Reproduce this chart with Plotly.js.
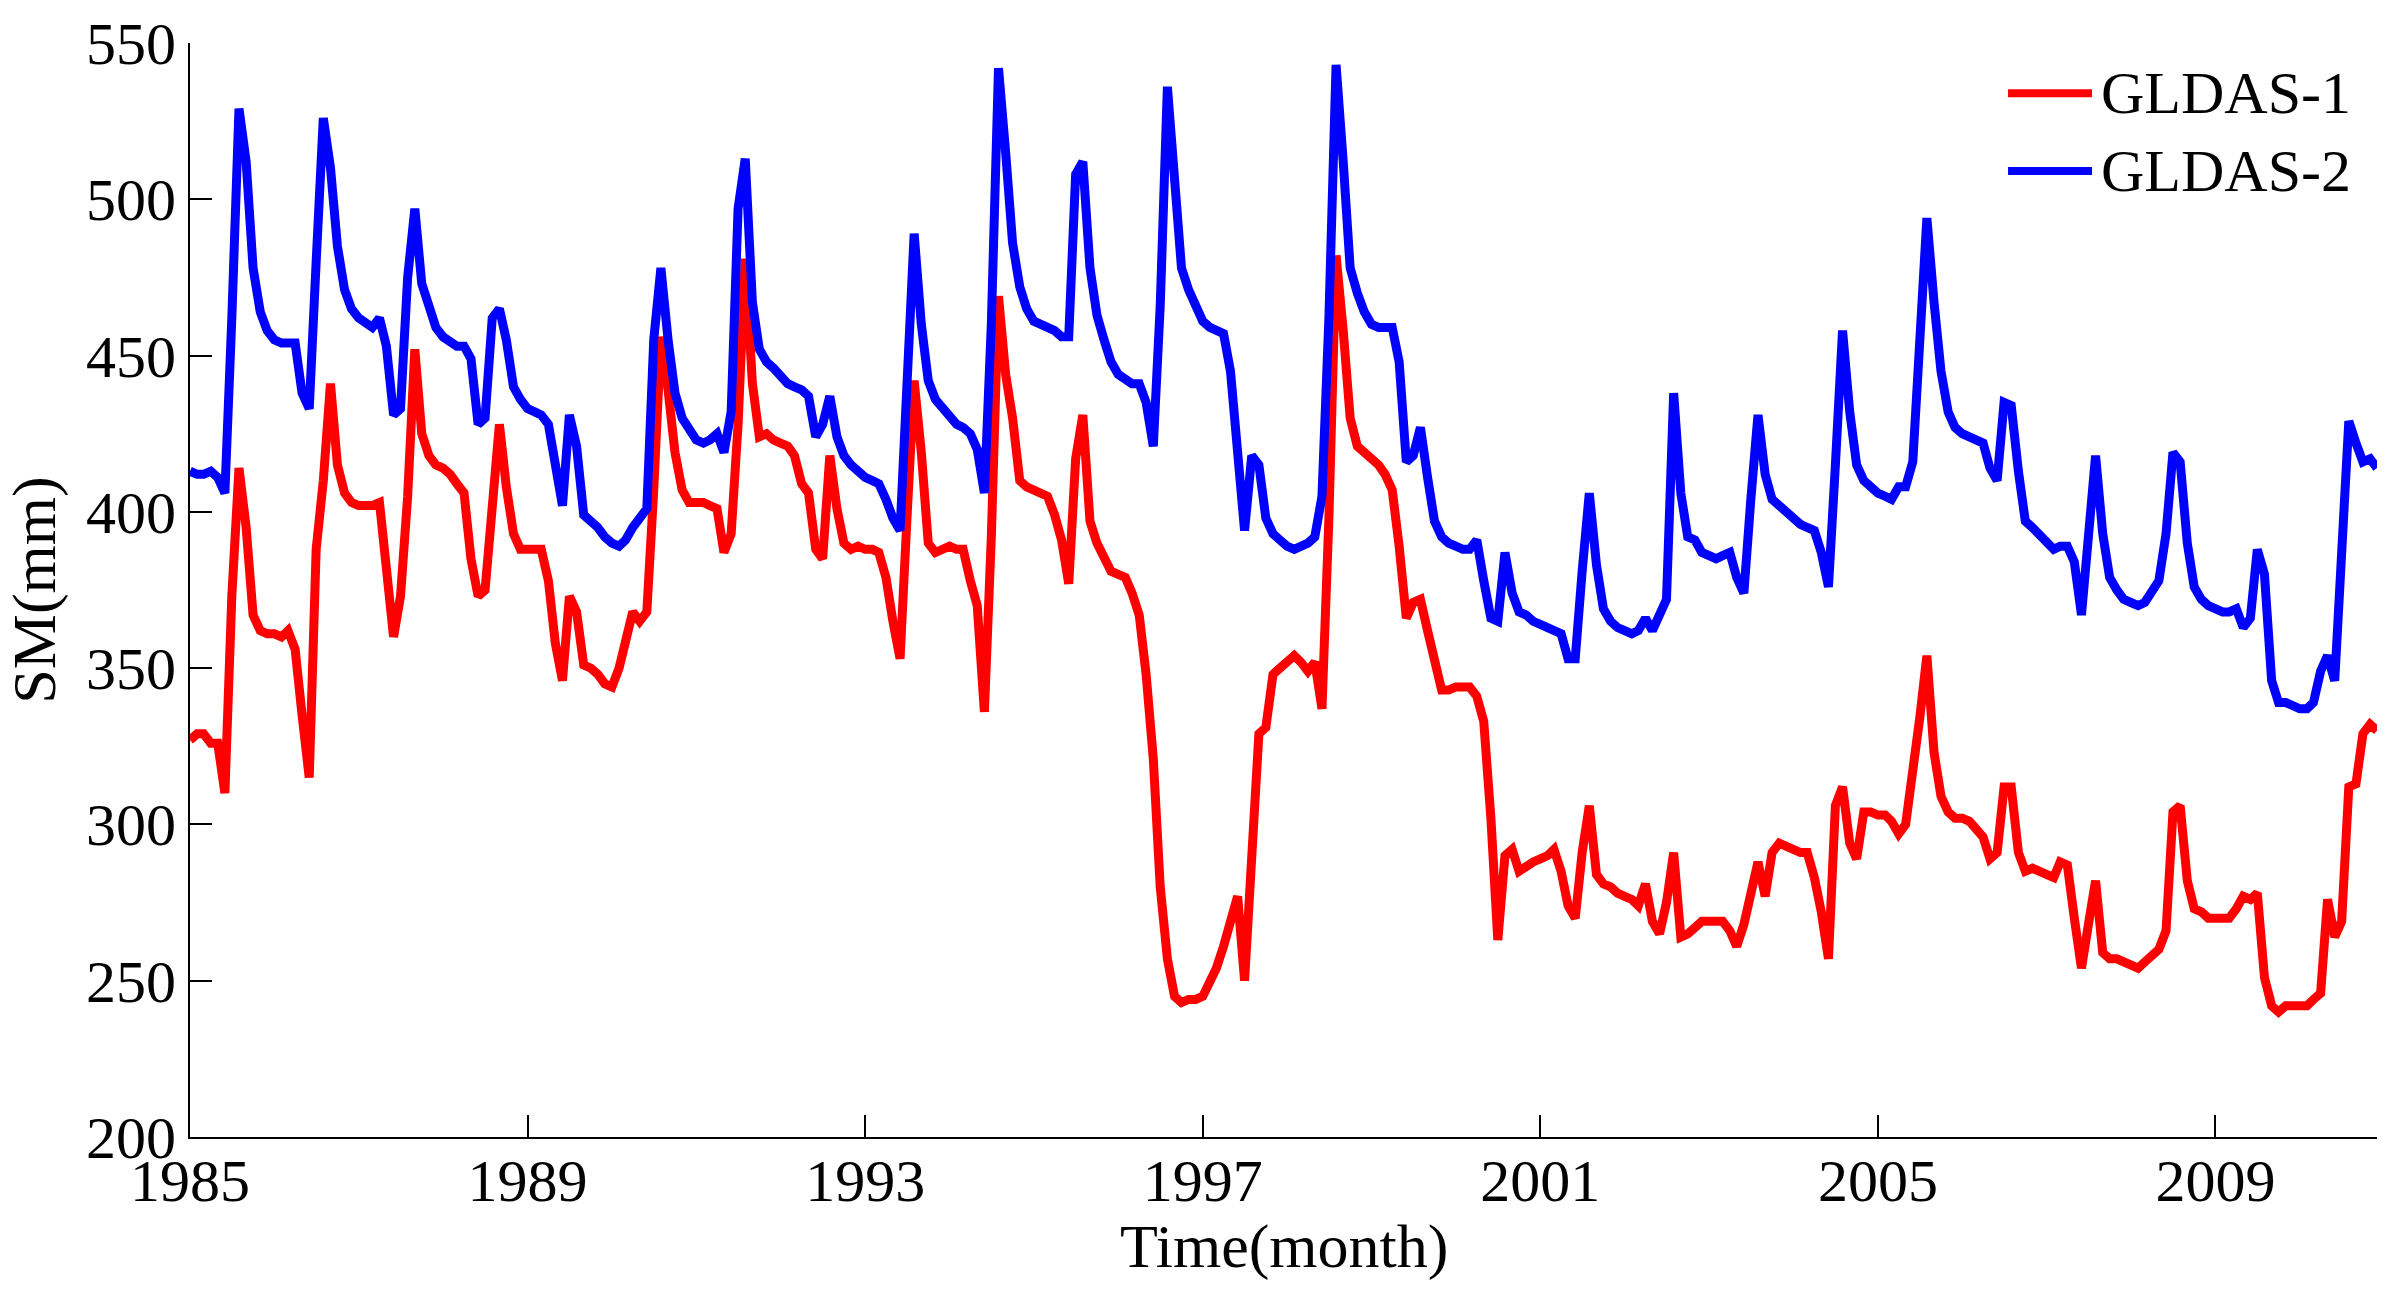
<!DOCTYPE html>
<html>
<head>
<meta charset="utf-8">
<script src="https://cdn.plot.ly/plotly-3.0.1.min.js"></script>
<style>
  html, body { margin: 0; padding: 0; background: #fff; }
  #plot { width: 2405px; height: 1292px; }
</style>
</head>
<body>
<div id="plot"></div>
<script>
// monthly soil moisture (mm), Jan 1985 .. Dec 2010, one row per year
const startYear = 1985
const endYear = 2010

const gldas1 = [
  327, 329, 329, 326, 326, 310, 373, 414, 395, 367, 362, 361,
  361, 360, 362, 356, 335, 315, 388, 410, 441, 415, 406, 403,
  402, 402, 402, 403, 378, 360, 373, 405, 452, 425, 418, 415,
  414, 412, 409, 406, 385, 373, 375, 399, 428, 408, 393, 388,
  388, 388, 388, 378, 358, 346, 373, 368, 351, 350, 348, 345,
  344, 350, 360, 368, 365, 368, 407, 456, 439, 419, 407, 403,
  403, 403, 402, 401, 387, 393, 428, 481, 441, 424, 425, 423,
  422, 421, 418, 409, 406, 388, 385, 418, 401, 390, 388, 389,
  388, 388, 387, 379, 365, 353, 398, 442, 419, 390, 387, 388,
  389, 388, 388, 378, 370, 336, 392, 469, 444, 430, 410, 408,
  407, 406, 405, 399, 391, 377, 417, 431, 397, 390, 385, 381,
  380, 379, 374, 367, 348, 321, 280, 257, 245, 243, 244, 244,
  245, 249, 254, 261, 268, 277, 250, 289, 329, 331, 348, 350,
  352, 354, 352, 349, 352, 337, 398, 482, 458, 430, 421, 419,
  417, 415, 412, 407, 389, 366, 371, 372, 362, 352, 343, 343,
  344, 344, 344, 341, 333, 302, 263, 290, 292, 285, 287, 288,
  289, 290, 292, 285, 274, 270, 291, 306, 284, 281, 280, 278,
  277, 276, 274, 281, 269, 265, 275, 291, 264, 265, 267, 269,
  269, 269, 269, 266, 261, 268, 278, 288, 277, 291, 294, 293,
  292, 291, 291, 283, 272, 257, 306, 312, 294, 289, 304, 304,
  303, 303, 301, 297, 300, 316, 334, 354, 323, 309, 304, 302,
  302, 301, 299, 296, 289, 291, 312, 312, 291, 285, 286, 285,
  284, 283, 288, 287, 270, 254, 268, 282, 259, 257, 257, 256,
  255, 254, 256, 258, 260, 266, 304, 306, 282, 273, 272, 270,
  270, 270, 270, 273, 277, 276, 278, 251, 242, 240, 242, 242,
  242, 242, 244, 246, 276, 264, 269, 312, 313, 329, 332, 330
]

const gldas2 = [
  413, 412, 412, 413, 411, 406, 462, 529, 512, 478, 464, 458,
  455, 454, 454, 454, 438, 433, 480, 526, 510, 485, 471, 465,
  462, 460, 459, 462, 453, 431, 433, 475, 497, 473, 465, 459,
  456, 454, 453, 453, 449, 428, 430, 462, 465, 455, 440, 436,
  433, 432, 431, 428, 413, 402, 431, 421, 399, 397, 395, 392,
  390, 389, 391, 395, 398, 401, 455, 478, 455, 438, 430, 426,
  423, 422, 423, 425, 419, 432, 497, 513, 467, 452, 448, 446,
  443, 441, 440, 439, 437, 424, 428, 437, 424, 418, 415, 413,
  411, 410, 409, 404, 398, 394, 447, 489, 460, 442, 436, 433,
  430, 428, 427, 425, 420, 406, 460, 542, 515, 486, 472, 465,
  461, 460, 459, 458, 456, 456, 508, 512, 478, 463, 455, 448,
  444, 442, 441, 441, 435, 421, 466, 536, 505, 478, 471, 466,
  461, 459, 458, 457, 445, 415, 394, 418, 415, 398, 393, 391,
  389, 388, 389, 390, 392, 405, 462, 543, 512, 478, 470, 464,
  460, 459, 459, 459, 448, 416, 418, 427, 411, 397, 392, 390,
  389, 388, 388, 391, 378, 366, 365, 387, 374, 368, 367, 365,
  364, 363, 362, 361, 353, 353, 381, 406, 383, 369, 365, 363,
  362, 361, 362, 366, 362, 368, 372, 438, 406, 392, 391, 387,
  386, 385, 386, 387, 379, 374, 404, 431, 412, 404, 402, 400,
  398, 396, 395, 394, 387, 376, 415, 458, 432, 415, 410, 408,
  406, 405, 404, 408, 408, 416, 455, 494, 467, 445, 432, 427,
  425, 424, 423, 422, 414, 410, 435, 434, 413, 397, 395, 393,
  390, 388, 389, 389, 384, 367, 392, 418, 393, 379, 375, 372,
  371, 370, 371, 374, 378, 393, 419, 416, 390, 376, 372, 370,
  369, 368, 368, 369, 363, 366, 388, 380, 346, 339, 339, 338,
  337, 337, 339, 349, 354, 346, 383, 429, 422, 416, 417, 414
]

const tickYears = [1985, 1989, 1993, 1997, 2001, 2005, 2009]
const yTicks = [200, 250, 300, 350, 400, 450, 500, 550]
const seriesNames = ["GLDAS-1", "GLDAS-2"]
const seriesColors = ["#ff0000", "#0000ff"]

const pad2 = n => (n < 10 ? "0" + n : "" + n)
const months = []
for (let y = startYear; y <= endYear; y++) {
  for (let m = 1; m <= 12; m++) months.push(y + "-" + pad2(m) + "-01")
}

const font = "Liberation Serif, Times New Roman, serif"

const traces = [gldas1, gldas2].map((vals, i) => ({
  x: months,
  y: vals,
  type: "scatter",
  mode: "lines",
  name: seriesNames[i],
  line: { color: seriesColors[i], width: 9 },
  showlegend: false
}))

// hand-made legend so the line samples can be as long as in the original
const legendRows = [0.954, 0.883]
const shapes = legendRows.map((yy, i) => ({
  type: "line", xref: "paper", yref: "paper",
  x0: 0.8313, x1: 0.8697, y0: yy, y1: yy,
  line: { color: seriesColors[i], width: 8 }
}))
const annotations = legendRows.map((yy, i) => ({
  xref: "paper", yref: "paper", x: 0.8728, y: yy,
  xanchor: "left", yanchor: "middle", showarrow: false,
  text: seriesNames[i],
  font: { family: font, size: 60, color: "#000" }
}))
// x axis title placed by hand, a bit closer to the tick labels than plotly puts it
annotations.push({
  xref: "paper", yref: "paper", x: 0.5, y: -0.1,
  xanchor: "center", yanchor: "middle", showarrow: false,
  text: "Time(month)",
  font: { family: font, size: 62, color: "#000" }
})

const axisCommon = {
  showgrid: false,
  zeroline: false,
  showline: true,
  linecolor: "#000",
  linewidth: 2,
  mirror: false,
  ticks: "inside",
  ticklen: 22,
  tickwidth: 2,
  tickcolor: "#000",
  tickfont: { family: font, size: 60, color: "#000" }
}

const layout = {
  width: 2405,
  height: 1292,
  paper_bgcolor: "#fff",
  plot_bgcolor: "#fff",
  margin: { l: 190, r: 28, t: 43, b: 155, pad: 0 },
  xaxis: Object.assign({}, axisCommon, {
    type: "date",
    range: [months[0], months[months.length - 1]],
    tickvals: tickYears.map(y => y + "-01-01"),
    ticktext: tickYears.map(String),
    ticklabelstandoff: -10
  }),
  yaxis: Object.assign({}, axisCommon, {
    range: [200, 550],
    tickvals: yTicks,
    ticktext: yTicks.map(String),
    ticklabelstandoff: 0,
    title: { text: "SM(mm)", font: { family: font, size: 62, color: "#000" }, standoff: 22 }
  }),
  shapes: shapes,
  annotations: annotations
}

Plotly.newPlot("plot", traces, layout, { displayModeBar: false, staticPlot: true })
</script>
</body>
</html>
